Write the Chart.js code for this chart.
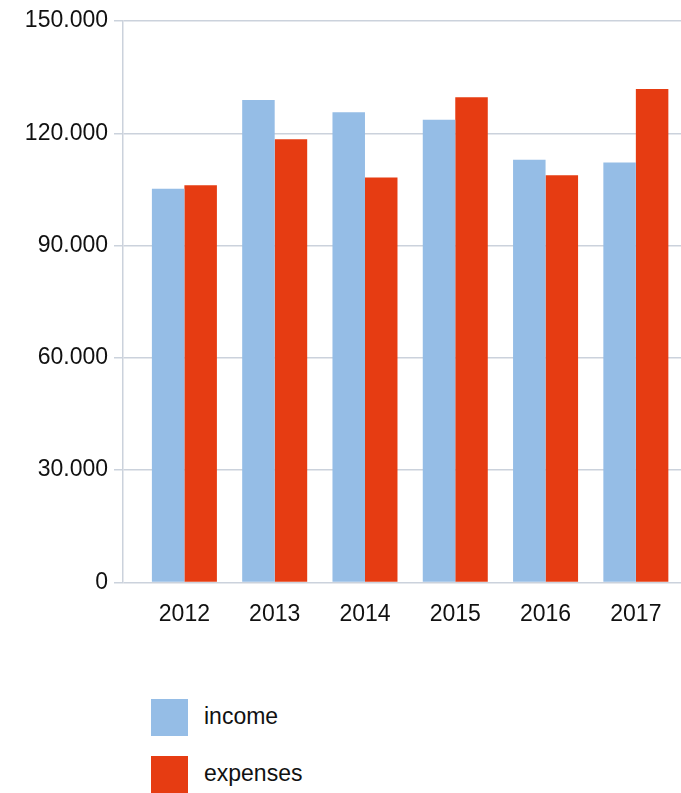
<!DOCTYPE html>
<html>
<head>
<meta charset="utf-8">
<title>income / expenses</title>
<script src="https://cdn.jsdelivr.net/npm/chart.js@4/dist/chart.umd.min.js"></script>
<style>
  body { margin: 0; background: #fff; font-family: "Liberation Sans", Arial, sans-serif; }
  #wrap { position: relative; width: 681px; height: 793px; overflow: hidden; }
  #legend { position: absolute; left: 151px; top: 699px; }
  .item { height: 57px; position: relative; }
  .box { position: absolute; left: 0; top: 0; width: 37px; height: 37px; }
  .label { position: absolute; left: 53px; top: 4px; font-size: 23px; color: #111; }
</style>
</head>
<body>
<div id="wrap">
  <canvas id="myChart" width="681" height="660"></canvas>
  <div id="legend"></div>
</div>
<script>
// data
var years = ["2012", "2013", "2014", "2015", "2016", "2017"];
var income = [105200, 128900, 125600, 123600, 112900, 112200];
var expenses = [106100, 118400, 108200, 129600, 108800, 131800];
var yTicks = [0, 30000, 60000, 90000, 120000, 150000];

var gridColor = "#cbd2dc";
var textColor = "#111";
var font = { family: "'Liberation Sans', Arial, sans-serif", size: 23 };

// 150000 -> "150.000"
function dots(v) {
  return String(v).replace(/\B(?=(\d{3})+(?!\d))/g, ".");
}

function points(values) {
  return values.map(function(v, i) {
    return { x: i, y: v };
  });
}

var chartData = {
  datasets: [
    {
      label: "income",
      data: points(income),
      backgroundColor: "#95bde6"
    },
    {
      label: "expenses",
      data: points(expenses),
      backgroundColor: "#e63c12"
    }
  ]
};

var options = {
  responsive: false,
  animation: false,
  layout: { padding: { top: 21, right: 0, bottom: 14, left: 0 } },
  datasets: {
    bar: { barPercentage: 1.0, categoryPercentage: 0.72 }
  },
  plugins: {
    legend: { display: false },
    tooltip: { enabled: false }
  },
  scales: {
    x: {
      type: "linear",
      offset: false,
      min: -0.68,
      max: years.length - 0.5,
      grid: { display: false, drawTicks: false },
      border: { display: false },
      afterBuildTicks: function(scale) {
        scale.ticks = years.map(function(y, i) { return { value: i }; });
      },
      ticks: {
        padding: 18,
        color: textColor,
        font: font,
        callback: function(v) { return years[v]; }
      }
    },
    y: {
      min: yTicks[0],
      max: yTicks[yTicks.length - 1],
      grid: { color: gridColor, lineWidth: 1.5, tickLength: 9 },
      border: { display: true, color: gridColor, width: 1.5 },
      afterFit: function(scale) { scale.width = 123; },
      afterBuildTicks: function(scale) {
        scale.ticks = yTicks.map(function(t) { return { value: t }; });
      },
      ticks: {
        padding: 6,
        color: textColor,
        font: font,
        callback: function(v) { return dots(v); }
      }
    }
  }
};

var ctx = document.getElementById("myChart");
var chart = new Chart(ctx, {
  type: "bar",
  data: chartData,
  options: options
});

// legend below the chart, one item per line
var legend = document.getElementById("legend");
chart.data.datasets.forEach(function(ds) {
  var item = document.createElement("div");
  item.className = "item";
  var box = document.createElement("div");
  box.className = "box";
  box.style.background = ds.backgroundColor;
  var label = document.createElement("div");
  label.className = "label";
  label.textContent = ds.label;
  item.appendChild(box);
  item.appendChild(label);
  legend.appendChild(item);
});
</script>
</body>
</html>
